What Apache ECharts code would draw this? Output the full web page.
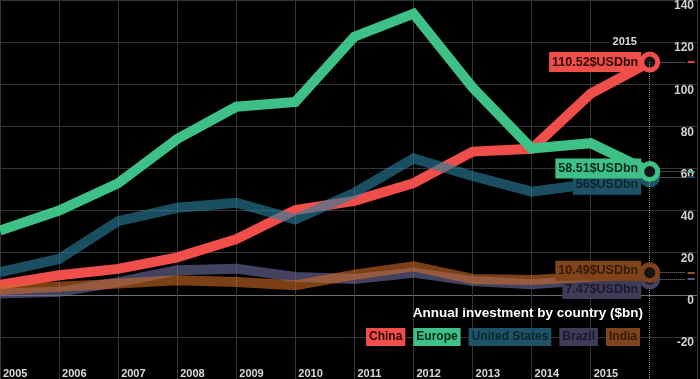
<!DOCTYPE html>
<html>
<head>
<meta charset="utf-8">
<script src="https://cdn.jsdelivr.net/npm/echarts@6/dist/echarts.min.js"></script>
<style>
html,body{margin:0;padding:0;background:#000;}
#c{width:700px;height:379px;}
</style>
</head>
<body>
<div id="c"></div>
<script>
// ---- data ----
const years = [2004, 2005, 2006, 2007, 2008, 2009, 2010, 2011, 2012, 2013, 2014, 2015];
const xTickLabels = ['2005', '2006', '2007', '2008', '2009', '2010', '2011', '2012', '2013', '2014', '2015'];
const names = ['China', 'Europe', 'United States', 'Brazil', 'India'];
const china  = [4.7, 9.3, 12.3, 17.8, 26.4, 40.2, 44.6, 53, 68, 69.3, 95.5, 110.52];
const europe = [30.5, 40, 53, 74, 89.3, 91.6, 122.6, 133.5, 98.5, 69.5, 72, 58.51];
const usa    = [10.8, 17, 35, 41.3, 43.7, 35.8, 48.4, 64.8, 56.4, 49, 52.6, 56];
const brazil = [0.6, 1.4, 6, 11.6, 12.4, 8.5, 7.5, 10.5, 6.5, 5, 7, 7.47];
const india  = [2.3, 3.8, 5.3, 6.9, 6.1, 4.5, 9.5, 13.5, 7.5, 7, 8.5, 10.49];
const unit = '$USDbn';
const title = 'Annual investment by country ($bn)';

// ---- styles ----
const values = [china, europe, usa, brazil, india];
const lineColors  = ['#f04e4b', '#3ec186', '#2a7f9e', '#6e6a9c', '#cf6a26'];
const lineOpacity = [1, 1, 0.62, 0.62, 0.6];
const markColors  = ['#f04e4b', '#3ec186', '#1c5468', '#45425f', '#7e4118'];
const dashColors  = ['#d94440', '#3ec186', '#1c5468', '#5a5780', '#9a5220'];
const boxColors   = ['#f04e4b', '#3ec186', '#1d5267', '#3e3c58', '#7f441b'];
const boxText     = ['#2a0808', '#082a18', '#0b2630', '#1a1a28', '#351a08'];
const labelOffsets = [[0, 0], [0, -3], [0, 8], [0, 10], [0, -2]];
const zs = [3, 5, 4, 6, 7];
const FONT = '"Liberation Sans", Arial, Helvetica, sans-serif';

const last = years.length - 1;
const lastYear = years[last];

function mkSeries(i) {
  const vals = values[i];
  const data = years.map((y, k) => [y, vals[k]]);
  data[last] = {
    value: [years[last], vals[last]],
    symbol: 'circle',
    symbolSize: 16,
    itemStyle: { color: '#141414', borderColor: markColors[i], borderWidth: 5, opacity: 1 },
    label: {
      show: true, position: 'left', distance: -2, offset: labelOffsets[i],
      formatter: p => p.value[1] + unit,
      backgroundColor: boxColors[i], color: boxText[i],
      fontFamily: FONT, fontWeight: 'bold', fontSize: 12.5, padding: [4, 3, 3, 3]
    }
  };
  return {
    name: names[i], type: 'line', z: zs[i], symbol: 'none', showSymbol: true,
    data: data,
    lineStyle: { color: lineColors[i], width: 10, opacity: lineOpacity[i], join: 'miter', cap: 'butt' },
    itemStyle: { color: lineColors[i] },
    label: { show: false },
    animation: false, silent: true, emphasis: { disabled: true }
  };
}

// guide marks (pointer-like lines at the last year)
const guideLines = [];
guideLines.push([
  { coord: [lastYear, china[last]], lineStyle: { type: 'dotted', color: '#8a8a8a', width: 1 } },
  { coord: [lastYear, -40] }
]);
values.forEach((vals, i) => {
  guideLines.push([
    { coord: [lastYear + 0.18, vals[last]], lineStyle: { type: 'dotted', color: '#8a8a8a', width: 1 } },
    { coord: [lastYear + 0.6, vals[last]] }
  ]);
  guideLines.push([
    { coord: [lastYear + 0.64, vals[last]], lineStyle: { type: 'solid', color: dashColors[i], width: 2 } },
    { coord: [lastYear + 0.76, vals[last]] }
  ]);
});

const xSplitColors = years.map((y, k) => k === last ? 'rgba(0,0,0,0)' : '#363636').concat(['#363636']);
const ySplitColors = ['#363636', '#363636', '#707070', '#363636', '#363636', '#363636', '#363636', '#363636', '#363636', '#363636'];

const series = [0, 1, 2, 3, 4].map(mkSeries);
series.unshift({
  name: 'guides', type: 'line', z: 1, data: [], silent: true, animation: false,
  markLine: {
    silent: true, animation: false, symbol: ['none', 'none'], label: { show: false },
    data: guideLines
  },
  markPoint: {
    silent: true, animation: false, symbol: 'rect', symbolSize: 1,
    itemStyle: { color: 'rgba(0,0,0,0)' },
    label: {
      show: true, formatter: () => String(lastYear), offset: [-25, -20],
      color: '#dcdcdc', fontFamily: FONT, fontWeight: 'bold', fontSize: 11,
      backgroundColor: '#000', padding: [1, 3]
    },
    data: [{ coord: [lastYear, china[last]] }]
  }
});

const chart = echarts.init(document.getElementById('c'));
chart.setOption({
  backgroundColor: '#000',
  animation: false,
  title: {
    text: title, right: 57, top: 306, padding: 0,
    textStyle: { color: '#ffffff', fontFamily: FONT, fontWeight: 'bold', fontSize: 13.5 }
  },
  legend: {
    right: 60, top: 328, padding: 0, itemGap: 3, itemWidth: 0, itemHeight: 0,
    selectedMode: false,
    data: names.map((n, i) => ({
      name: n, icon: 'none',
      textStyle: {
        backgroundColor: boxColors[i], color: boxText[i], fontFamily: FONT,
        fontWeight: 'bold', fontSize: 12, padding: [3, 3, 3, 3]
      }
    }))
  },
  grid: { left: 0, right: 0, top: 0, bottom: -4, containLabel: false },
  xAxis: {
    type: 'value', min: 2004, max: 2015.8, interval: 1,
    axisLine: { show: false, onZero: false },
    axisTick: { show: false },
    axisLabel: {
      inside: true, margin: 0, align: 'left', verticalAlign: 'bottom', padding: [0, 0, 0, 3],
      color: '#dadada', fontFamily: FONT, fontWeight: 'bold', fontSize: 11,
      formatter: v => (Number.isInteger(v) && xTickLabels[v - years[0]]) ? xTickLabels[v - years[0]] : ''
    },
    splitLine: { show: true, lineStyle: { color: xSplitColors, width: 1 } }
  },
  yAxis: {
    type: 'value', position: 'right', min: -40, max: 140, interval: 20,
    axisLine: { show: false },
    axisTick: { show: false },
    axisLabel: {
      inside: true, margin: 3, verticalAlign: 'top',
      color: '#d0d0d0', fontFamily: FONT, fontWeight: 'bold', fontSize: 12,
      formatter: v => v === -40 ? '' : String(v)
    },
    splitLine: { show: true, lineStyle: { color: ySplitColors, width: 1 } }
  },
  series: series
});
</script>
</body>
</html>
